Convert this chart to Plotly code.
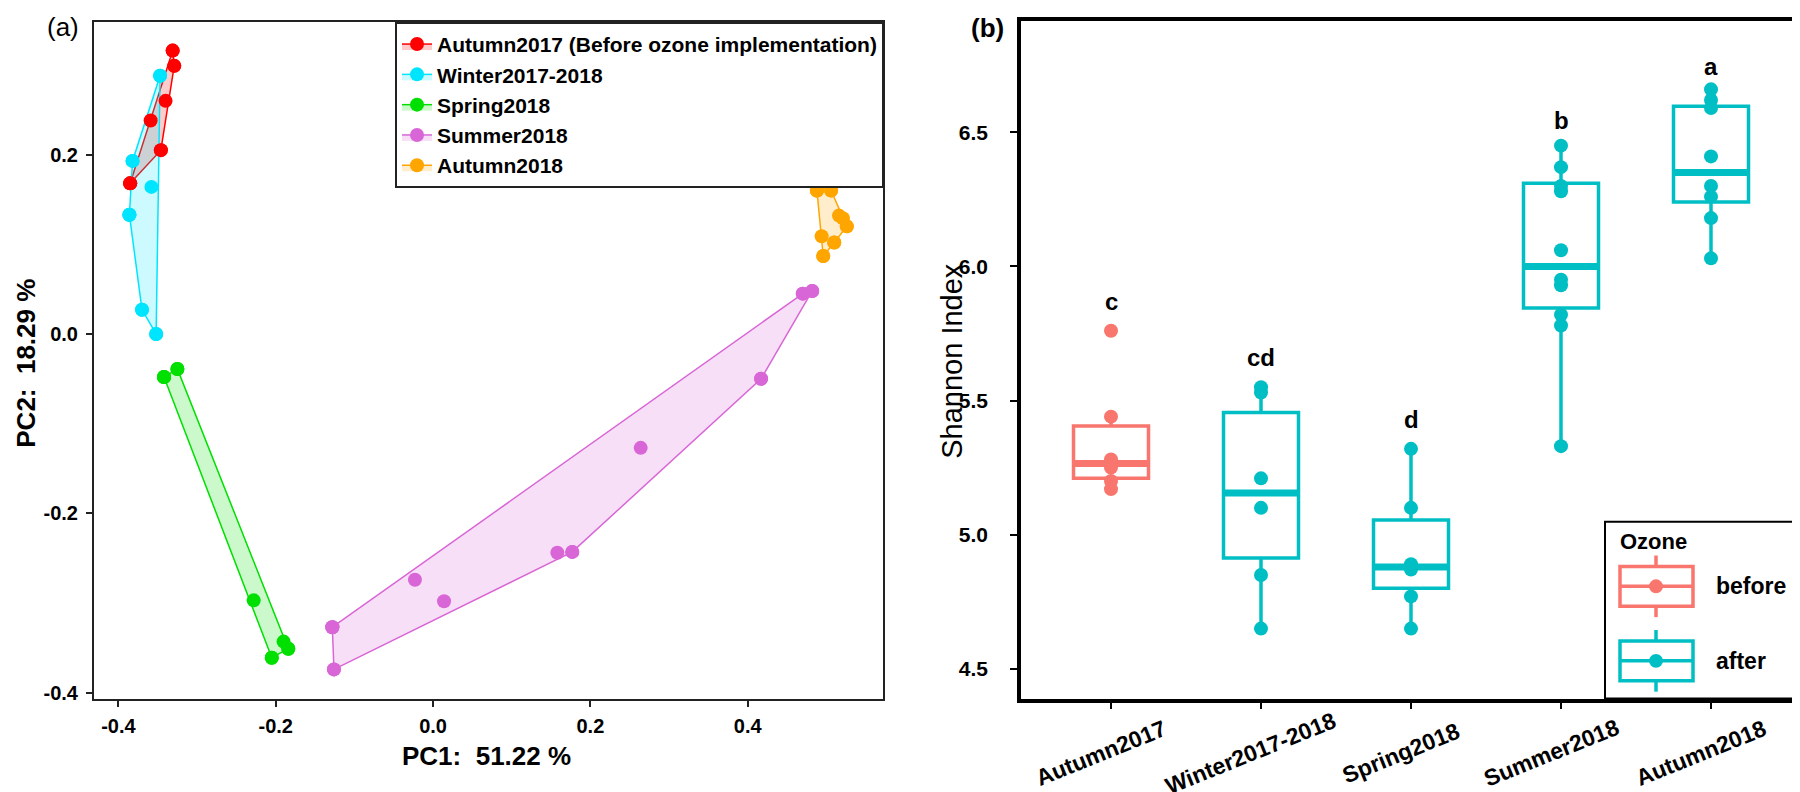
import plotly.graph_objects as go

# ---------------- Panel (a): ordination scores ----------------
season_names = ["Autumn2017 (Before ozone implementation)", "Winter2017-2018",
                "Spring2018", "Summer2018", "Autumn2018"]
season_colors = ["#FF0000", "#00E5FF", "#00E000", "#D966D6", "#FFA500"]
season_fills = ["rgba(255,0,0,0.2)", "rgba(0,229,255,0.2)", "rgba(0,224,0,0.2)",
                "rgba(217,102,214,0.2)", "rgba(255,165,0,0.2)"]

pc1_autumn2017 = [-0.331, -0.329, -0.340, -0.359, -0.346, -0.385]
pc2_autumn2017 = [0.316, 0.299, 0.260, 0.238, 0.205, 0.168]
pc1_winter = [-0.347, -0.382, -0.358, -0.386, -0.370, -0.352]
pc2_winter = [0.288, 0.193, 0.164, 0.133, 0.027, 0.000]
pc1_spring = [-0.342, -0.325, -0.228, -0.190, -0.184, -0.205]
pc2_spring = [-0.048, -0.039, -0.297, -0.343, -0.351, -0.361]
pc1_summer = [0.470, 0.482, 0.417, 0.264, 0.158, 0.177, -0.023, 0.014, -0.128, -0.126]
pc2_summer = [0.045, 0.048, -0.050, -0.127, -0.244, -0.243, -0.274, -0.298, -0.327, -0.374]
pc1_autumn2018 = [0.488, 0.506, 0.516, 0.521, 0.526, 0.494, 0.510, 0.496]
pc2_autumn2018 = [0.160, 0.160, 0.132, 0.129, 0.120, 0.109, 0.102, 0.087]

pc1_ticks = [-0.4, -0.2, 0.0, 0.2, 0.4]
pc2_ticks = [-0.4, -0.2, 0.0, 0.2]

# ---------------- Panel (b): Shannon index ----------------
categories = ["Autumn2017", "Winter2017-2018", "Spring2018", "Summer2018", "Autumn2018"]
ozone_group = ["before", "after", "after", "after", "after"]
shannon_autumn2017 = [5.76, 5.44, 5.28, 5.25, 5.20, 5.17]
shannon_winter = [5.55, 5.53, 5.21, 5.10, 4.85, 4.65]
shannon_spring = [5.32, 5.10, 4.89, 4.87, 4.77, 4.65]
shannon_summer = [6.45, 6.37, 6.30, 6.28, 6.06, 5.95, 5.93, 5.82, 5.78, 5.33]
shannon_autumn2018 = [6.66, 6.62, 6.59, 6.41, 6.30, 6.26, 6.18, 6.03]
box_q1 = [5.21, 4.913, 4.80, 5.845, 6.24]
box_median = [5.265, 5.155, 4.88, 6.00, 6.35]
box_q3 = [5.405, 5.455, 5.055, 6.31, 6.597]
box_lower = [5.17, 4.65, 4.65, 5.33, 6.03]
box_upper = [5.44, 5.55, 5.32, 6.45, 6.66]
sig_letters = ["c", "cd", "d", "b", "a"]
sig_y = [5.87, 5.66, 5.43, 6.545, 6.745]
shannon_ticks = [4.5, 5.0, 5.5, 6.0, 6.5]
ozone_colors = {"before": "#F8766D", "after": "#00BFC4"}

FONT = "Liberation Sans, Arial, sans-serif"
W, H = 1800, 792


def px(x):
    return x / W


def py(y):
    return (H - y) / H


def convex_hull(xs, ys):
    pts = sorted(set(zip(xs, ys)))
    if len(pts) < 3:
        return pts

    def cross(o, a, b):
        return (a[0] - o[0]) * (b[1] - o[1]) - (a[1] - o[1]) * (b[0] - o[0])

    lower, upper = [], []
    for p in pts:
        while len(lower) >= 2 and cross(lower[-2], lower[-1], p) <= 0:
            lower.pop()
        lower.append(p)
    for p in reversed(pts):
        while len(upper) >= 2 and cross(upper[-2], upper[-1], p) <= 0:
            upper.pop()
        upper.append(p)
    hull = lower[:-1] + upper[:-1]
    return hull + [hull[0]]


fig = go.Figure()

season_x = [pc1_autumn2017, pc1_winter, pc1_spring, pc1_summer, pc1_autumn2018]
season_y = [pc2_autumn2017, pc2_winter, pc2_spring, pc2_summer, pc2_autumn2018]

for name, col, fcol, xs, ys in zip(season_names, season_colors, season_fills, season_x, season_y):
    hull = convex_hull(xs, ys)
    fig.add_trace(go.Scatter(
        x=[p[0] for p in hull], y=[p[1] for p in hull],
        mode="lines+markers", fill="toself", fillcolor=fcol,
        line=dict(color=col, width=1.5),
        marker=dict(color=col, size=14),
        name=name, legend="legend", xaxis="x", yaxis="y", hoverinfo="skip"))

for name, col, xs, ys in zip(season_names, season_colors, season_x, season_y):
    fig.add_trace(go.Scatter(
        x=xs, y=ys, mode="markers", marker=dict(color=col, size=14),
        name=name, showlegend=False, xaxis="x", yaxis="y"))

# Panel (b)
shannon_values = [shannon_autumn2017, shannon_winter, shannon_spring, shannon_summer, shannon_autumn2018]
box_w = 0.5
for i, cat in enumerate(categories):
    col = ozone_colors[ozone_group[i]]
    fig.add_trace(go.Box(
        x=[i], q1=[box_q1[i]], median=[box_median[i]], q3=[box_q3[i]],
        lowerfence=[box_lower[i]], upperfence=[box_upper[i]],
        width=box_w, whiskerwidth=0, boxpoints=False,
        line=dict(color=col, width=3.5), fillcolor="rgba(255,255,255,0)",
        name=cat, showlegend=False, xaxis="x2", yaxis="y2"))
    fig.add_trace(go.Scatter(
        x=[i - box_w / 2, i + box_w / 2], y=[box_median[i], box_median[i]],
        mode="lines", line=dict(color=col, width=7),
        showlegend=False, hoverinfo="skip", xaxis="x2", yaxis="y2"))
    fig.add_trace(go.Scatter(
        x=[i] * len(shannon_values[i]), y=shannon_values[i], mode="markers",
        marker=dict(color=col, size=14), name=cat, showlegend=False,
        xaxis="x2", yaxis="y2"))


def note(x, y, text, size, bold=False, angle=0, xanchor="center", yanchor="middle",
         xref="paper", yref="paper", xshift=0):
    f = dict(family=FONT, size=size, color="black")
    if bold:
        f["weight"] = "bold"
    return dict(x=x, y=y, xref=xref, yref=yref, text=text, showarrow=False,
                textangle=angle, xanchor=xanchor, yanchor=yanchor, xshift=xshift, font=f)


annotations = []
for i, (lab, yv) in enumerate(zip(sig_letters, sig_y)):
    annotations.append(note(i, yv, lab, 24, bold=True, xref="x2", yref="y2"))
for i, cat in enumerate(categories):
    annotations.append(note(i, py(750), cat, 23, bold=True, angle=-22, xref="x2", xshift=-10))

# panel labels and axis titles
annotations += [
    note(px(55), py(19), "(a)", 26),
    note(px(980), py(20), "(b)", 26, bold=True),
    note(px(478), py(753), "PC1:  51.22 %", 26, bold=True),
    note(px(18), py(358), "PC2:  18.29 %", 26, bold=True, angle=-90),
    note(px(944), py(355), "Shannon Index", 29, angle=-90),
]

# manual legend for panel (b)
shapes = [dict(type="rect", xref="paper", yref="paper", x0=px(1597), x1=px(1793),
               y0=py(695), y1=py(517), line=dict(color="black", width=2),
               fillcolor="white", layer="above")]
annotations.append(note(px(1610), py(537), "Ozone", 22, bold=True, xanchor="left"))
for grp, yc in [("before", 582), ("after", 657)]:
    col = ozone_colors[grp]
    shapes += [
        dict(type="line", xref="paper", yref="paper", x0=px(1648), x1=px(1648),
             y0=py(yc - 31), y1=py(yc + 31), line=dict(color=col, width=3.5), layer="above"),
        dict(type="rect", xref="paper", yref="paper", x0=px(1612), x1=px(1685),
             y0=py(yc + 20), y1=py(yc - 20), line=dict(color=col, width=3.5),
             fillcolor="white", layer="above"),
        dict(type="line", xref="paper", yref="paper", x0=px(1612), x1=px(1685),
             y0=py(yc), y1=py(yc), line=dict(color=col, width=3.5), layer="above"),
        dict(type="circle", xref="paper", yref="paper", x0=px(1641), x1=px(1655),
             y0=py(yc + 7), y1=py(yc - 7), line=dict(color=col, width=0),
             fillcolor=col, layer="above"),
    ]
    annotations.append(note(px(1706), py(yc), grp, 23, bold=True, xanchor="left"))

fig.update_layout(
    width=W, height=H, margin=dict(l=0, r=0, t=0, b=0),
    paper_bgcolor="white", plot_bgcolor="white",
    font=dict(family=FONT, color="black"),
    xaxis=dict(domain=[px(86), px(875)], range=[-0.431, 0.572], anchor="y",
               showgrid=False, zeroline=False, showline=True, mirror=True,
               linecolor="#222", linewidth=2, ticks="outside", ticklen=6, tickwidth=2,
               tickcolor="#222", tickvals=pc1_ticks, ticktext=[f"{v:.1f}" for v in pc1_ticks],
               tickfont=dict(family=FONT, size=20, weight="bold", color="black"),
               ticklabelstandoff=2),
    yaxis=dict(domain=[py(695), py(14)], range=[-0.4066, 0.348], anchor="x",
               showgrid=False, zeroline=False, showline=True, mirror=True,
               linecolor="#222", linewidth=2, ticks="outside", ticklen=6, tickwidth=2,
               tickcolor="#222", tickvals=pc2_ticks, ticktext=[f"{v:.1f}" for v in pc2_ticks],
               tickfont=dict(family=FONT, size=20, weight="bold", color="black"),
               ticklabelstandoff=4),
    xaxis2=dict(domain=[px(1013), px(1793)], range=[-0.6, 4.6], anchor="y2",
                showgrid=False, zeroline=False, showline=True, mirror=True,
                linecolor="black", linewidth=3.5, ticks="outside", ticklen=7, tickwidth=2,
                tickcolor="black", tickvals=list(range(len(categories))),
                showticklabels=False),
    yaxis2=dict(domain=[py(695), py(13)], range=[4.389, 6.915], anchor="x2",
                showgrid=False, zeroline=False, showline=True, mirror=True,
                linecolor="black", linewidth=3.5, ticks="outside", ticklen=7, tickwidth=2,
                tickcolor="black", tickvals=shannon_ticks,
                ticktext=[f"{v:.1f}" for v in shannon_ticks],
                tickfont=dict(family=FONT, size=21, weight="bold", color="black"),
                ticklabelstandoff=18),
    legend=dict(x=px(387), y=py(14), xanchor="left", yanchor="top", bgcolor="white",
                bordercolor="#222", borderwidth=2,
                font=dict(family=FONT, size=21, weight="bold", color="black"),
                tracegroupgap=0),
    annotations=annotations, shapes=shapes,
)

fig.write_html("out.html")
